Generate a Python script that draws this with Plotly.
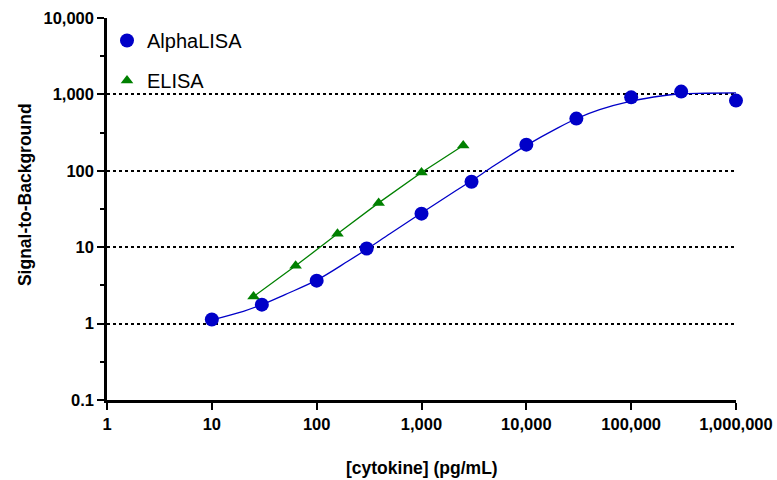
import plotly.graph_objects as go

# AlphaLISA data points
alpha_x = [10, 30, 100, 300, 1000, 3000, 10000, 30000, 100000, 300000, 1000000]
alpha_y = [1.13, 1.77, 3.65, 9.6, 27.5, 72, 220, 482, 915, 1088, 830]

# AlphaLISA fitted curve
fit_x = [10, 20, 30, 50, 100, 200, 300, 500, 1000, 2000, 3000, 5000, 10000,
         20000, 30000, 50000, 100000, 200000, 300000, 500000, 1000000]
fit_y = [1.12, 1.45, 1.77, 2.4, 3.7, 6.6, 9.4, 15, 28, 52, 74, 118, 215,
         365, 480, 630, 815, 960, 1020, 1035, 1045]

# ELISA data points
elisa_x = [25, 63, 158, 390, 1000, 2500]
elisa_y = [2.26, 5.7, 15, 38, 95, 214]

x_tickvals = [1, 10, 100, 1000, 10000, 100000, 1000000]
x_ticktext = ["1", "10", "100", "1,000", "10,000", "100,000", "1,000,000"]
y_tickvals = [0.1, 1, 10, 100, 1000, 10000]
y_ticktext = ["0.1", "1", "10", "100", "1,000", "10,000"]
y_minor = [0.316, 3.16, 31.6, 316, 3162]

BLUE = "#0000c8"
GREEN = "#008000"
FONT = "Arial, 'Liberation Sans', sans-serif"

fig = go.Figure()
fig.add_trace(go.Scatter(x=fit_x, y=fit_y, mode="lines", line=dict(color=BLUE, width=1.3, shape="spline"),
                         showlegend=False, hoverinfo="skip", cliponaxis=False))
fig.add_trace(go.Scatter(x=elisa_x, y=elisa_y, mode="lines", line=dict(color=GREEN, width=1.3),
                         showlegend=False, hoverinfo="skip"))
fig.add_trace(go.Scatter(x=alpha_x, y=alpha_y, mode="markers", name="AlphaLISA",
                         marker=dict(symbol="circle", size=14, color=BLUE), legendgroup="a",
                         cliponaxis=False))
fig.add_trace(go.Scatter(x=elisa_x, y=elisa_y, mode="markers", name="ELISA",
                         marker=dict(symbol="triangle-up", size=11, color=GREEN), legendgroup="e"))

fig.update_layout(
    width=777, height=480,
    margin=dict(l=107, r=41, t=18, b=80, autoexpand=False),
    plot_bgcolor="white", paper_bgcolor="white",
    font=dict(family=FONT, color="black"),
    legend=dict(x=0.0, y=0.992, xanchor="left", yanchor="top", font=dict(size=20),
                tracegroupgap=11, bgcolor="rgba(0,0,0,0)"),
    xaxis=dict(type="log", range=[0, 6], tickvals=x_tickvals, ticktext=x_ticktext,
               automargin=False,
               showgrid=False, showline=True, linecolor="black", linewidth=2.5,
               ticks="outside", ticklen=7, tickwidth=2, tickcolor="black",
               tickfont=dict(size=16.5, family=FONT, weight="bold"),
               zeroline=False),
    yaxis=dict(type="log", range=[-1, 4], tickvals=y_tickvals, ticktext=y_ticktext,
               automargin=False,
               showgrid=True, gridcolor="black", griddash="dot", gridwidth=1.5,
               showline=True, linecolor="black", linewidth=2.5,
               ticks="outside", ticklen=7, tickwidth=2, tickcolor="black",
               minor=dict(tickmode="array", tickvals=y_minor, ticks="outside", ticklen=4,
                          tickwidth=2, tickcolor="black", showgrid=False),
               tickfont=dict(size=16.5, family=FONT, weight="bold"),
               zeroline=False),
    annotations=[
        dict(text="<b>[cytokine] (pg/mL)</b>", xref="paper", yref="paper", x=0.5, y=-0.178,
             xanchor="center", yanchor="middle", showarrow=False, font=dict(size=17.5)),
        dict(text="<b>Signal-to-Background</b>", xref="paper", yref="paper", x=-0.13, y=0.537,
             xanchor="center", yanchor="middle", showarrow=False, textangle=-90, font=dict(size=17.5)),
    ],
)

fig.write_html("out.html")
